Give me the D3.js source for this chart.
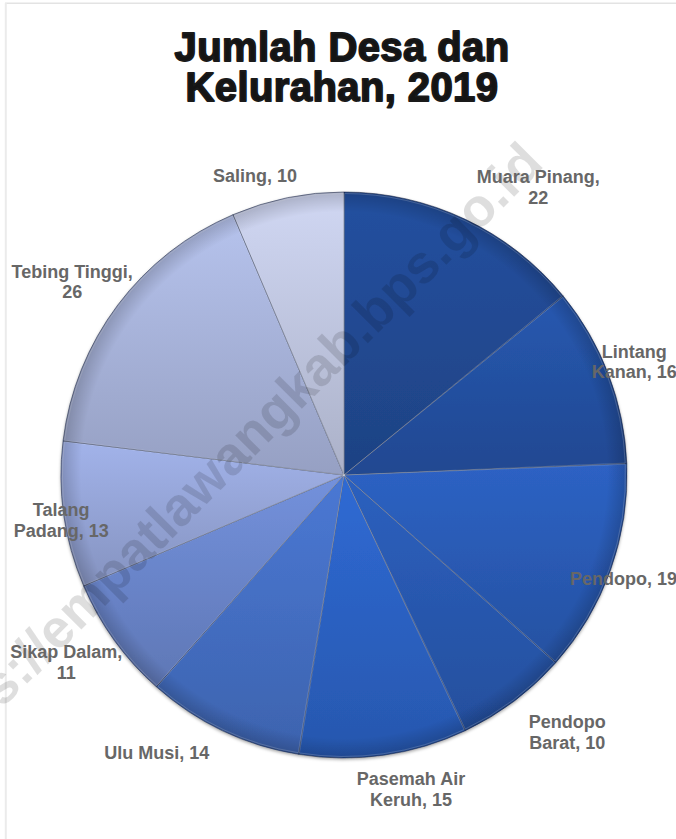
<!DOCTYPE html>
<html>
<head>
<meta charset="utf-8">
<script src="https://cdn.jsdelivr.net/npm/d3@7/dist/d3.min.js"></script>
<style>
  html, body { margin: 0; padding: 0; background: #ffffff; }
  svg { display: block; }
</style>
</head>
<body>
<div id="chart"></div>
<script>
// Number of villages (desa) and urban villages (kelurahan) per district, 2019
const categories = [
  "Muara Pinang", "Lintang Kanan", "Pendopo", "Pendopo Barat", "Pasemah Air Keruh",
  "Ulu Musi", "Sikap Dalam", "Talang Padang", "Tebing Tinggi", "Saling"
];
const values = [22, 16, 19, 10, 15, 14, 11, 13, 26, 10];
const titleLines = ["Jumlah Desa dan", "Kelurahan, 2019"];
const watermarkText = "https://empatlawangkab.bps.go.id";

// Slice colours (upper tone of each slice's vertical shading)
const sliceColors = [
  "#2450a0", "#2758b0", "#2d62c4", "#2c60bf", "#2f6ad4",
  "#4a78d4", "#7391dc", "#a2b3ea", "#b6c3ed", "#d0d7f3"
];
// Best-fit nudges for the data labels, in px from the outside-end anchor
const labelNudge = [
  [57, 1], [-9, 0], [-22, -4], [31, 1], [22, -3],
  [-50, -12], [-18, 0], [34, 0], [-16, -1], [-25, 14]
];

const W = 676, H = 839;
const cx = 344, cy = 475, R = 283;
const labelRadius = 320;
const labelFont = 18, labelLine = 20.5, wrapWidth = 127;

const svg = d3.select("#chart").append("svg")
  .attr("width", W).attr("height", H)
  .attr("viewBox", [0, 0, W, H]);

const defs = svg.append("defs");

// Frame lines of the chart area
svg.append("line").attr("x1", 5).attr("x2", W).attr("y1", 3.3).attr("y2", 3.3)
  .attr("stroke", "#e3e3e3").attr("stroke-width", 1.5);
svg.append("line").attr("x1", 5.8).attr("x2", 5.8).attr("y1", 3).attr("y2", H)
  .attr("stroke", "#ebebeb").attr("stroke-width", 2);

// Title, one text element per line
titleLines.forEach((t, i) => {
  svg.append("text")
    .attr("x", 342).attr("y", 61 + i * 39.5)
    .attr("text-anchor", "middle")
    .attr("font-family", "'Liberation Sans', Arial, sans-serif")
    .attr("font-weight", "bold")
    .attr("font-size", 40)
    .attr("letter-spacing", 0.4)
    .attr("fill", "#141414")
    .attr("stroke", "#1a1a1a")
    .attr("stroke-width", 1.8)
    .attr("stroke-linejoin", "round")
    .text(t);
});

// Pie layout
const pie = d3.pie().sort(null).value(d => d.value).startAngle(0).endAngle(2 * Math.PI);
const data = categories.map((name, i) => ({ name, value: values[i], color: sliceColors[i] }));
const arcs = pie(data);
const arc = d3.arc().innerRadius(0).outerRadius(R);
const labelArc = d3.arc().innerRadius(labelRadius).outerRadius(labelRadius);

// Vertical shading for each slice
arcs.forEach((a, i) => {
  const g = defs.append("linearGradient").attr("id", "slice" + i)
    .attr("x1", 0).attr("y1", 0).attr("x2", 0).attr("y2", 1);
  g.append("stop").attr("offset", 0).attr("stop-color", a.data.color);
  g.append("stop").attr("offset", 1).attr("stop-color", d3.color(a.data.color).darker(0.55).formatHex());
});

// Soft shadow under the pie
const shadow = defs.append("filter").attr("id", "pieShadow")
  .attr("x", "-10%").attr("y", "-10%").attr("width", "120%").attr("height", "120%");
shadow.append("feDropShadow").attr("dx", 0).attr("dy", 1.5).attr("stdDeviation", 1.6)
  .attr("flood-color", "#000").attr("flood-opacity", 0.35);

// Darkened rim for the bevelled look
const rim = defs.append("radialGradient").attr("id", "rim")
  .attr("cx", 0.5).attr("cy", 0.5).attr("r", 0.5);
rim.append("stop").attr("offset", 0.93).attr("stop-color", "#000").attr("stop-opacity", 0);
rim.append("stop").attr("offset", 1).attr("stop-color", "#000").attr("stop-opacity", 0.18);

const pieG = svg.append("g").attr("transform", `translate(${cx},${cy})`);
const slicesG = pieG.append("g").attr("filter", "url(#pieShadow)");

slicesG.selectAll("path.slice")
  .data(arcs)
  .join("path")
  .attr("class", "slice")
  .attr("d", arc)
  .attr("fill", (d, i) => `url(#slice${i})`)
  .attr("stroke", "#1c2745")
  .attr("stroke-opacity", 0.6)
  .attr("stroke-width", 0.9)
  .attr("stroke-linejoin", "round");

// Light bevel highlight just inside each slice edge
pieG.selectAll("path.bevel")
  .data(arcs)
  .join("path")
  .attr("class", "bevel")
  .attr("d", d3.arc().innerRadius(0).outerRadius(R - 1.5).padAngle(0.004))
  .attr("fill", "none")
  .attr("stroke", "#ffffff")
  .attr("stroke-opacity", 0.22)
  .attr("stroke-width", 1);

pieG.append("circle").attr("r", R).attr("fill", "url(#rim)").attr("pointer-events", "none");

// Site watermark
const wmEnd = [532, 152];
svg.append("text")
  .attr("transform", `translate(${wmEnd[0]},${wmEnd[1]}) rotate(-45)`)
  .attr("text-anchor", "end")
  .attr("dominant-baseline", "central")
  .attr("font-family", "'Liberation Sans', Arial, sans-serif")
  .attr("font-weight", "bold")
  .attr("font-size", 54)
  .attr("fill", "#000")
  .attr("fill-opacity", 0.13)
  .text(watermarkText);

// Data labels: "Name, value", wrapped to the label box width
const labelsG = svg.append("g")
  .attr("font-family", "'Liberation Sans', Arial, sans-serif")
  .attr("font-weight", "bold")
  .attr("font-size", labelFont)
  .attr("fill", "#676767")
  .attr("text-anchor", "middle");

const measure = svg.append("text")
  .attr("font-family", "'Liberation Sans', Arial, sans-serif")
  .attr("font-weight", "bold")
  .attr("font-size", labelFont)
  .attr("visibility", "hidden");
function textWidth(s) { measure.text(s); return measure.node().getComputedTextLength(); }

function wrapLabel(s) {
  const words = s.split(" ");
  const lines = [];
  let cur = words[0];
  for (let k = 1; k < words.length; k++) {
    const trial = cur + " " + words[k];
    if (textWidth(trial) <= wrapWidth) cur = trial;
    else { lines.push(cur); cur = words[k]; }
  }
  lines.push(cur);
  return lines;
}

arcs.forEach((a, i) => {
  const [bx, by] = labelArc.centroid(a);
  const x = cx + bx + labelNudge[i][0];
  const y = cy + by + labelNudge[i][1];
  const lines = wrapLabel(`${a.data.name}, ${a.data.value}`);
  const t = labelsG.append("text");
  const firstBase = y - (lines.length - 1) * labelLine / 2 + 0.36 * labelFont;
  lines.forEach((ln, k) => {
    t.append("tspan").attr("x", x).attr("y", firstBase + k * labelLine).text(ln);
  });
});
measure.remove();
</script>
</body>
</html>
